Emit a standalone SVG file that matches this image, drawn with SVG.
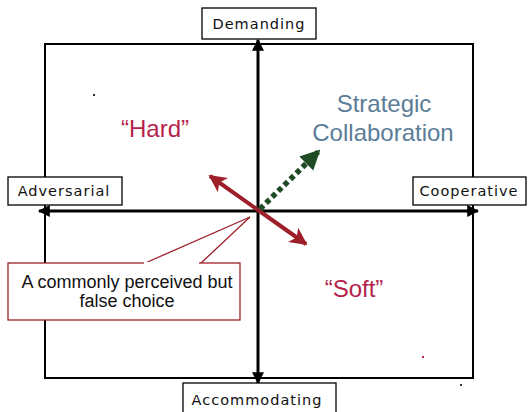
<svg xmlns="http://www.w3.org/2000/svg" width="531" height="412" viewBox="0 0 531 412">
  <style>
    .frame { fill: none; stroke: #000; stroke-width: 2; }
    .axis { stroke: #000; stroke-width: 3; fill: none; }
    .lbox { fill: #fff; stroke: #000; stroke-width: 1.3; }
    .ltxt { font-family: "DejaVu Sans", "Liberation Sans", sans-serif; font-size: 14.5px; fill: #111; letter-spacing: 1px; text-anchor: middle; }
    .quad { font-family: "Liberation Sans", Arial, sans-serif; font-size: 24px; text-anchor: middle; }
    .red { fill: #b5234b; }
    .blue { fill: #5b7d98; }
    .note { font-family: "Liberation Sans", Arial, sans-serif; font-size: 18px; fill: #111; text-anchor: middle; }
  </style>
  <defs>
    <marker id="blackHead" viewBox="0 0 10 10" refX="9" refY="5" markerWidth="4" markerHeight="4" orient="auto">
      <path d="M0,0 L10,5 L0,10 z" fill="#000"/>
    </marker>
    <marker id="redHead" viewBox="0 0 10 10" refX="9" refY="5" markerWidth="4.4" markerHeight="4.8" orient="auto">
      <path d="M0,0 L10,5 L0,10 L2.5,5 z" fill="#9e1f2a"/>
    </marker>
    <marker id="greenHead" viewBox="0 0 10 10" refX="9" refY="5" markerWidth="3.6" markerHeight="3.8" orient="auto">
      <path d="M0,0 L10,5 L0,10 z" fill="#1e4a24"/>
    </marker>
  </defs>

  <rect width="531" height="412" fill="#fff"/>

  <!-- outer frame -->
  <rect class="frame" x="45" y="44" width="428" height="334"/>

  <g id="connectors">
    <!-- vertical axis -->
    <line class="axis" x1="258" y1="211" x2="258" y2="40" marker-end="url(#blackHead)"/>
    <line class="axis" x1="258" y1="211" x2="258" y2="383" marker-end="url(#blackHead)"/>
    <!-- horizontal axis -->
    <line class="axis" x1="258" y1="211" x2="39" y2="211" marker-end="url(#blackHead)"/>
    <line class="axis" x1="258" y1="211" x2="478" y2="211" marker-end="url(#blackHead)"/>
    <!-- false-choice axis -->
    <line x1="258" y1="210" x2="210" y2="176" stroke="#9e1f2a" stroke-width="4" marker-end="url(#redHead)"/>
    <line x1="258" y1="210" x2="306" y2="244" stroke="#9e1f2a" stroke-width="4" marker-end="url(#redHead)"/>
    <!-- collaboration direction -->
    <line x1="260" y1="209" x2="319" y2="151" stroke="#1e4a24" stroke-width="5.5" stroke-dasharray="5,3.5" marker-end="url(#greenHead)"/>
  </g>

  <g id="demanding">
    <rect class="lbox" x="202" y="8" width="114" height="31"/>
    <text class="ltxt" x="259" y="29">Demanding</text>
  </g>
  <g id="adversarial">
    <rect class="lbox" x="8" y="177" width="114" height="28"/>
    <text class="ltxt" x="64" y="196">Adversarial</text>
  </g>
  <g id="cooperative">
    <rect class="lbox" x="413" y="177" width="113" height="28"/>
    <text class="ltxt" x="469" y="196">Cooperative</text>
  </g>
  <g id="accommodating">
    <rect class="lbox" x="183" y="383" width="153" height="35"/>
    <text class="ltxt" x="257" y="405">Accommodating</text>
  </g>

  <g id="hard">
    <text class="quad red" x="155" y="137">“Hard”</text>
  </g>
  <g id="soft">
    <text class="quad red" x="354" y="297">“Soft”</text>
  </g>
  <g id="strategic-collaboration">
    <text class="quad blue" x="384" y="112">Strategic</text>
    <text class="quad blue" x="383" y="141">Collaboration</text>
  </g>

  <g id="callout">
    <path d="M143,264 L250,217 L200,264" fill="#fff" stroke="#9e1f2a" stroke-width="1.3"/>
    <rect x="8" y="263" width="232" height="57" fill="#fff" stroke="#9e1f2a" stroke-width="1.3"/>
    <line x1="144" y1="263" x2="199" y2="263" stroke="#fff" stroke-width="2"/>
    <text class="note" x="127" y="288">A commonly perceived but</text>
    <text class="note" x="127" y="307">false choice</text>
  </g>

  <!-- stray specks -->
  <rect x="93" y="94" width="2" height="2" fill="#3a2a20"/>
  <rect x="422" y="356" width="2" height="2" fill="#b5234b"/>
  <rect x="460" y="384" width="2" height="2" fill="#333"/>
</svg>
